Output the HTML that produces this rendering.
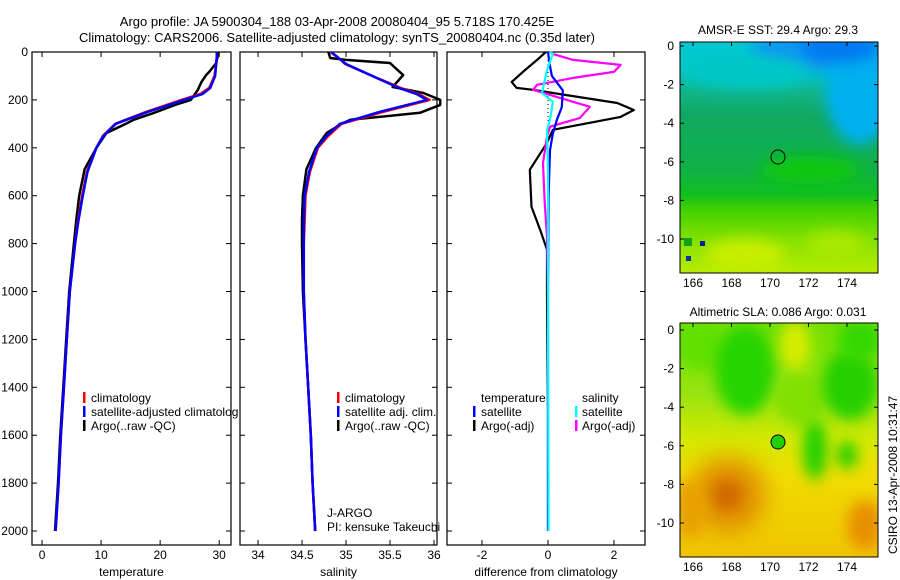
<!DOCTYPE html>
<html><head><meta charset="utf-8"><style>
html,body{margin:0;padding:0;background:#fff;}
svg{display:block;font-family:"Liberation Sans",sans-serif;}
</style></head><body>
<svg id="c" width="900" height="580" viewBox="0 0 900 580" xmlns="http://www.w3.org/2000/svg">
<defs>
<filter id="bl" x="-50%" y="-50%" width="200%" height="200%"><feGaussianBlur stdDeviation="12"/></filter>
<filter id="bl2" x="-50%" y="-50%" width="200%" height="200%"><feGaussianBlur stdDeviation="7"/></filter>
<clipPath id="m1"><rect x="680" y="42" width="198" height="231"/></clipPath>
<clipPath id="m2"><rect x="680" y="323" width="198" height="234"/></clipPath>
<linearGradient id="g1" x1="0" y1="0" x2="0" y2="1">
<stop offset="0" stop-color="#00c8d0"/><stop offset="0.12" stop-color="#00c8c8"/><stop offset="0.22" stop-color="#10b488"/><stop offset="0.32" stop-color="#10a860"/><stop offset="0.55" stop-color="#10b048"/><stop offset="0.66" stop-color="#10c020"/><stop offset="0.72" stop-color="#40d000"/><stop offset="0.85" stop-color="#80e000"/><stop offset="1" stop-color="#b8ec00"/></linearGradient>
<linearGradient id="g2" x1="0" y1="0" x2="0" y2="1">
<stop offset="0" stop-color="#70e000"/><stop offset="0.3" stop-color="#98e410"/><stop offset="0.5" stop-color="#d4e800"/><stop offset="0.65" stop-color="#f0dc00"/><stop offset="1" stop-color="#f0c400"/></linearGradient>
</defs>
<g id="titles" font-size="13" fill="#000">
<text x="337" y="26" text-anchor="middle">Argo profile: JA 5900304_188 03-Apr-2008 20080404_95 5.718S 170.425E</text>
<text x="337" y="42" text-anchor="middle">Climatology: CARS2006. Satellite-adjusted climatology: synTS_20080404.nc (0.35d later)</text>
</g>
<g id="maps">
<g clip-path="url(#m1)">
<rect x="680" y="42" width="198" height="231" fill="url(#g1)"/>
<ellipse cx="830" cy="50" rx="80" ry="22" fill="#0898f0" filter="url(#bl2)"/>
<ellipse cx="860" cy="90" rx="35" ry="55" fill="#00b0f0" filter="url(#bl2)"/>
<ellipse cx="840" cy="48" rx="40" ry="14" fill="#0078f0" filter="url(#bl2)"/>
<ellipse cx="750" cy="72" rx="60" ry="16" fill="#00c8c8" filter="url(#bl2)"/>
<ellipse cx="810" cy="170" rx="50" ry="14" fill="#10c810" filter="url(#bl2)"/>
<ellipse cx="745" cy="255" rx="40" ry="16" fill="#c8ee00" filter="url(#bl2)"/>
<ellipse cx="835" cy="245" rx="30" ry="14" fill="#a8e800" filter="url(#bl2)"/>
<rect x="684" y="238" width="8" height="8" fill="#10a020"/><rect x="686" y="256" width="5" height="5" fill="#1030a0"/><rect x="700" y="241" width="5" height="5" fill="#102090"/>
</g>
<rect x="680" y="42" width="198" height="231" fill="none" stroke="#000"/>
<circle cx="778" cy="157" r="7" fill="none" stroke="#000"/>
<g clip-path="url(#m2)">
<rect x="680" y="323" width="198" height="234" fill="url(#g2)"/>
<ellipse cx="700" cy="345" rx="25" ry="25" fill="#60e000" filter="url(#bl2)"/>
<ellipse cx="745" cy="370" rx="30" ry="45" fill="#28d400" filter="url(#bl2)"/>
<ellipse cx="800" cy="400" rx="25" ry="25" fill="#80e000" filter="url(#bl2)"/>
<ellipse cx="815" cy="450" rx="12" ry="30" fill="#20d000" filter="url(#bl2)"/>
<ellipse cx="850" cy="385" rx="28" ry="35" fill="#28d000" filter="url(#bl2)"/>
<ellipse cx="860" cy="340" rx="22" ry="20" fill="#30d800" filter="url(#bl2)"/>
<ellipse cx="847" cy="455" rx="10" ry="14" fill="#20d000" filter="url(#bl2)"/>
<ellipse cx="795" cy="345" rx="15" ry="25" fill="#d8ec00" filter="url(#bl2)"/>
<ellipse cx="728" cy="495" rx="38" ry="38" fill="#e09000" filter="url(#bl)"/>
<ellipse cx="727" cy="495" rx="15" ry="15" fill="#d06800" filter="url(#bl2)"/>
<ellipse cx="865" cy="525" rx="18" ry="25" fill="#e89000" filter="url(#bl2)"/>
<ellipse cx="690" cy="510" rx="15" ry="30" fill="#e8a000" filter="url(#bl2)"/>
</g>
<rect x="680" y="323" width="198" height="234" fill="none" stroke="#000"/>
<circle cx="778" cy="442" r="7" fill="#20d000" stroke="#000"/>
<text x="778" y="34" font-size="12" text-anchor="middle">AMSR-E SST: 29.4 Argo: 29.3</text>
<text x="778" y="316" font-size="12" text-anchor="middle">Altimetric SLA: 0.086 Argo: 0.031</text>
<text transform="translate(897,475) rotate(-90)" font-size="12" text-anchor="middle">CSIRO 13-Apr-2008 10:31:47</text>
</g>
<g id="axes"></g>
<g id="legends" font-size="12">
<g>
<rect x="83" y="392" width="2.5" height="11" fill="#f00"/><text x="91" y="402">climatology</text>
<rect x="83" y="406" width="2.5" height="11" fill="#00f"/><text x="91" y="416">satellite-adjusted climatolog</text>
<rect x="83" y="420" width="2.5" height="11" fill="#000"/><text x="91" y="430">Argo(..raw -QC)</text>
</g>
<g>
<rect x="337" y="392" width="2.5" height="11" fill="#f00"/><text x="345" y="402">climatology</text>
<rect x="337" y="406" width="2.5" height="11" fill="#00f"/><text x="345" y="416">satellite adj. clim.</text>
<rect x="337" y="420" width="2.5" height="11" fill="#000"/><text x="345" y="430">Argo(..raw -QC)</text>
</g>
<g>
<text x="481" y="402">temperature</text><text x="582" y="402">salinity</text>
<rect x="473" y="406" width="2.5" height="11" fill="#00f"/><text x="481" y="416">satellite</text>
<rect x="473" y="420" width="2.5" height="11" fill="#000"/><text x="481" y="430">Argo(-adj)</text>
<rect x="575" y="406" width="2.5" height="11" fill="#0ff"/><text x="582" y="416">satellite</text>
<rect x="575" y="420" width="2.5" height="11" fill="#f0f"/><text x="582" y="430">Argo(-adj)</text>
</g>
<text x="327" y="517">J-ARGO</text>
<text x="327" y="531">PI: kensuke Takeuchi</text>
</g>
<script>
var depthTicks=[0,200,400,600,800,1000,1200,1400,1600,1800,2000];
var tempTicks=[0,10,20,30];
var salTicks=[34,34.5,35,35.5,36];
var salTickLabels=["34","34.5","35","35.5","36"];
var diffTicks=[-2,0,2];
var latTicks=[0,-2,-4,-6,-8,-10];
var lonTicks=[166,168,170,172,174];
var climDepth=[0,20,50,100,150,175,200,250,300,350,400,500,600,700,800,1000,1200,1400,1600,1800,2000];
var climTemp=[29.6,29.6,29.5,29.2,28.3,26.8,23.6,17.6,12.4,10.3,9.2,7.6,6.8,6.1,5.6,4.7,4.2,3.7,3.2,2.8,2.3];
var satTemp=[29.6,29.6,29.5,29.3,28.5,27.2,24.0,17.9,12.5,10.4,9.2,7.7,6.9,6.2,5.6,4.7,4.2,3.7,3.2,2.8,2.3];
var climSal=[34.82,34.9,34.99,35.3,35.62,35.82,35.95,35.42,34.95,34.8,34.68,34.59,34.54,34.53,34.52,34.52,34.54,34.57,34.6,34.62,34.65];
var satSal=[34.83,34.9,35.0,35.3,35.6,35.8,35.92,35.38,34.93,34.78,34.67,34.58,34.53,34.52,34.52,34.52,34.54,34.57,34.6,34.62,34.65];
var argoDepth=[0,25,33,46,83,96,125,146,158,171,200,221,254,283,300,338,400,490,600,700,800,1000,1200,1400,1600,1800,2000];
var argoTemp=[29.8,29.7,29.6,29.5,28.3,27.8,27.0,26.6,26.4,26.0,25.2,22.5,19.0,15.5,14.2,10.9,9.2,7.2,6.3,5.8,5.4,4.6,4.1,3.6,3.1,2.7,2.2];
var argoSal=[34.8,34.82,35.0,35.5,35.61,35.65,35.58,35.53,35.7,35.88,36.07,36.07,35.84,35.05,34.95,34.78,34.66,34.55,34.51,34.5,34.5,34.51,34.54,34.57,34.6,34.62,34.65];
var satTdDepth=[0,50,100,160,230,283,340,410,600,1000,2000];
var satTd=[0,0.05,0.12,0.45,0.42,0.27,0.15,0.06,0.02,0,0];
var argoTdDepth=[0,4,33,83,125,150,158,171,213,242,271,325,379,492,646,742,825,1020,1500,2000];
var argoTd=[-0.05,-0.1,-0.33,-0.76,-1.1,-0.95,-0.45,0.15,2.1,2.6,2.2,0.15,-0.03,-0.55,-0.5,-0.24,-0.03,-0.03,0,0];
var satSdDepth=[0,8,75,171,208,283,325,500,1000,2000];
var satSd=[0.05,0.15,-0.03,-0.18,0.15,0.06,-0.03,0,0,0.02];
var argoSdDepth=[0,8,33,54,83,108,137,158,179,229,275,312,354,463,629,771,1000];
var argoSd=[0.1,0.15,0.76,2.2,2.0,0.76,-0.33,-0.45,0.06,1.27,0.97,0.06,-0.03,-0.15,-0.1,-0.03,0];

var NS="http://www.w3.org/2000/svg";
var axesG=document.getElementById('axes');
function el(t,a,p){var e=document.createElementNS(NS,t);for(var k in a)e.setAttribute(k,a[k]);(p||axesG).appendChild(e);return e;}
var Y0=52,Y1=545;
function yD(d){return 52+d*0.2395;}
var panels=[
 {x0:32,x1:231,lo:-1.7,hi:32.0,ticks:tempTicks,labels:tempTicks.map(String),name:'temperature',title:'temperature',left:true},
 {x0:240,x1:437,lo:33.795,hi:36.034,ticks:salTicks,labels:salTickLabels,name:'salinity',title:'salinity'},
 {x0:447,x1:645,lo:-3.06,hi:2.94,ticks:diffTicks,labels:diffTicks.map(String),name:'difference',title:'difference from climatology'}
];
panels.forEach(function(p){p.sx=function(v){return p.x0+(v-p.lo)/(p.hi-p.lo)*(p.x1-p.x0);};});
function line(p,xs,ds,color,w,name,dash){
  var pts=xs.map(function(v,i){return p.sx(v).toFixed(1)+','+yD(ds[i]).toFixed(1);}).join(' ');
  var e=el('polyline',{points:pts,fill:'none',stroke:color,'stroke-width':w,'stroke-linejoin':'round'});
  if(dash)e.setAttribute('stroke-dasharray',dash);
  
  
}
panels.forEach(function(p){
  var r=el('rect',{x:p.x0,y:Y0,width:p.x1-p.x0,height:Y1-Y0,fill:'none',stroke:'#000','stroke-width':1.2});
  
  
  depthTicks.forEach(function(d){
    el('line',{x1:p.x0,x2:p.x0+5,y1:yD(d),y2:yD(d),stroke:'#000'});
    el('line',{x1:p.x1,x2:p.x1-5,y1:yD(d),y2:yD(d),stroke:'#000'});
    if(p.left){var t=el('text',{x:p.x0-4,y:yD(d)+4,'font-size':12,'text-anchor':'end'});t.textContent=d;
      
      }
  });
  p.ticks.forEach(function(v,i){
    var x=p.sx(v);
    el('line',{x1:x,x2:x,y1:Y0,y2:Y0+5,stroke:'#000'});
    el('line',{x1:x,x2:x,y1:Y1,y2:Y1-5,stroke:'#000'});
    var t=el('text',{x:x,y:559,'font-size':12,'text-anchor':'middle'});t.textContent=p.labels[i];
    
    
  });
  var tt=el('text',{x:(p.x0+p.x1)/2,y:576,'font-size':12,'text-anchor':'middle'});tt.textContent=p.title;
  
  
});
var P=panels;
line(P[0],argoTemp,argoDepth,'#000',2.5,'temp-argo-line');
line(P[0],climTemp,climDepth,'#f00',2.5,'temp-climatology-line');
line(P[0],satTemp,climDepth,'#00f',2.5,'temp-satellite-line');
line(P[1],argoSal,argoDepth,'#000',2.5,'sal-argo-line');
line(P[1],climSal,climDepth,'#f00',2.5,'sal-climatology-line');
line(P[1],satSal,climDepth,'#00f',2.5,'sal-satellite-line');
line(P[2],[0,0],[0,400],'#000',1,'zero-line','1,3');
line(P[2],argoTd,argoTdDepth,'#000',2.2,'temp-argo-diff-line');
line(P[2],argoSd,argoSdDepth,'#f0f',2.2,'sal-argo-diff-line');
line(P[2],satTd,satTdDepth,'#00f',2.2,'temp-satellite-diff-line');
line(P[2],satSd,satSdDepth,'#0ff',2.2,'sal-satellite-diff-line');
function mapAxes(top,lat0y,name){
  lonTicks.forEach(function(l){var x=693+(l-166)*19.25;
    el('line',{x1:x,x2:x,y1:top,y2:top+4,stroke:'#000'});
    var t=el('text',{x:x,y:top===42?287:571,'font-size':12,'text-anchor':'middle'});t.textContent=l;
    
    });
  latTicks.forEach(function(l){var y=lat0y-l*19.3;
    el('line',{x1:680,x2:684,y1:y,y2:y,stroke:'#000'});
    el('line',{x1:878,x2:874,y1:y,y2:y,stroke:'#000'});
    var t=el('text',{x:674,y:y+4,'font-size':12,'text-anchor':'end'});t.textContent=l;
    
    });
}
mapAxes(42,46,'sst-map');
mapAxes(323,330,'sla-map');
</script>
</svg>
</body></html>
